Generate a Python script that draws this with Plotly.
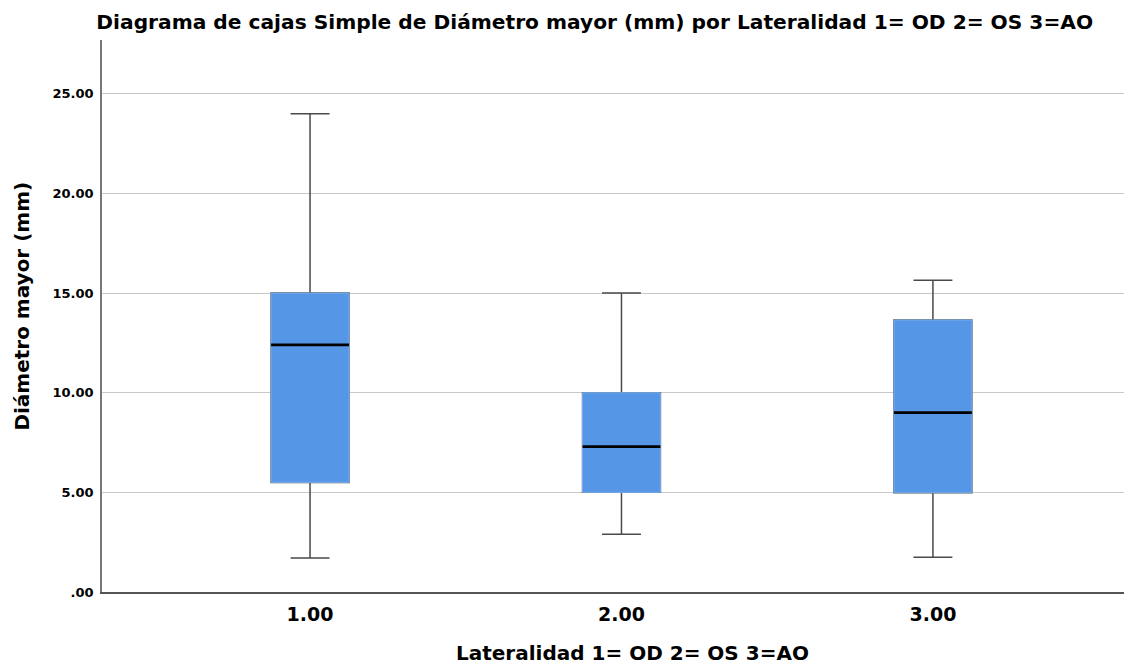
import plotly.graph_objects as go

categories = [1, 2, 3]
cat_labels = ["1.00", "2.00", "3.00"]
lower_whisker = [1.7, 2.9, 1.74]
q1_vals = [5.5, 5.0, 4.98]
median_vals = [12.4, 7.3, 9.0]
q3_vals = [15.0, 10.0, 13.65]
upper_whisker = [24.0, 15.0, 15.65]
y_tick_vals = [0, 5, 10, 15, 20, 25]
y_tick_text = [".00", "5.00", "10.00", "15.00", "20.00", "25.00"]

BOX_W = 0.25
FILL = "#5596e6"
FONT = "DejaVu Sans"

fig = go.Figure()
# Whiskers + box
fig.add_trace(go.Box(
    x=categories, q1=q1_vals, median=median_vals, q3=q3_vals,
    lowerfence=lower_whisker, upperfence=upper_whisker,
    width=BOX_W, whiskerwidth=0.5, fillcolor=FILL,
    line=dict(color="#4a4a4a", width=1.5), boxpoints=False,
    hoverinfo="skip", showlegend=False,
))
# Box body overlay (removes dark outline)
fig.add_trace(go.Box(
    x=categories, q1=q1_vals, median=median_vals, q3=q3_vals,
    lowerfence=q1_vals, upperfence=q3_vals,
    width=BOX_W, whiskerwidth=0, fillcolor=FILL,
    line=dict(color="#7aaeee", width=1), boxpoints=False,
    hoverinfo="skip", showlegend=False,
))
# Median lines
mx, my = [], []
for c, m in zip(categories, median_vals):
    mx += [c - BOX_W / 2, c + BOX_W / 2, None]
    my += [m, m, None]
fig.add_trace(go.Scatter(x=mx, y=my, mode="lines",
                         line=dict(color="black", width=2.8),
                         hoverinfo="skip", showlegend=False))

fig.update_layout(
    width=1124, height=659,
    boxmode="overlay",
    paper_bgcolor="white", plot_bgcolor="white",
    margin=dict(l=94, r=1, t=32, b=75, autoexpand=False),
    title=dict(text="<b>Diagrama de cajas Simple de Diámetro mayor (mm) por Lateralidad 1= OD 2= OS 3=AO</b>",
               x=0.522, xanchor="center", y=0.979, yanchor="middle",
               font=dict(family=FONT, size=20.2, color="black")),
    font=dict(family=FONT, color="black"),
    annotations=[
        dict(text="<b>Diámetro mayor (mm)</b>", textangle=-90, xref="paper", yref="paper",
             x=0, y=0.517, xanchor="center", yanchor="middle", xshift=-80,
             showarrow=False, font=dict(family=FONT, size=20, color="black")),
        dict(text="<b>Lateralidad 1= OD 2= OS 3=AO</b>", xref="paper", yref="paper",
             x=0.516, y=0, xanchor="center", yanchor="middle", yshift=-61,
             showarrow=False, font=dict(family=FONT, size=20, color="black")),
    ],
)
fig.update_xaxes(
    range=[0.332, 3.636], tickvals=categories, ticktext=[f"<b>{t}</b>" for t in cat_labels],
    tickfont=dict(size=19, family=FONT, color="black"),
    showgrid=False, zeroline=False, showline=True, linecolor="#555555", linewidth=1.6,
    ticks="", automargin=False, ticklabelstandoff=4,
)
fig.update_yaxes(
    range=[0, 27.7], tickvals=y_tick_vals, ticktext=[f"<b>{t}</b>" for t in y_tick_text],
    tickfont=dict(size=13, family=FONT, color="black"),
    showgrid=True, gridcolor="#c8c8c8", gridwidth=1.2, zeroline=False,
    showline=True, linecolor="#777777", linewidth=1.5, ticks="", automargin=False,
    ticklabelstandoff=4,
)
fig.write_html("out.html")
